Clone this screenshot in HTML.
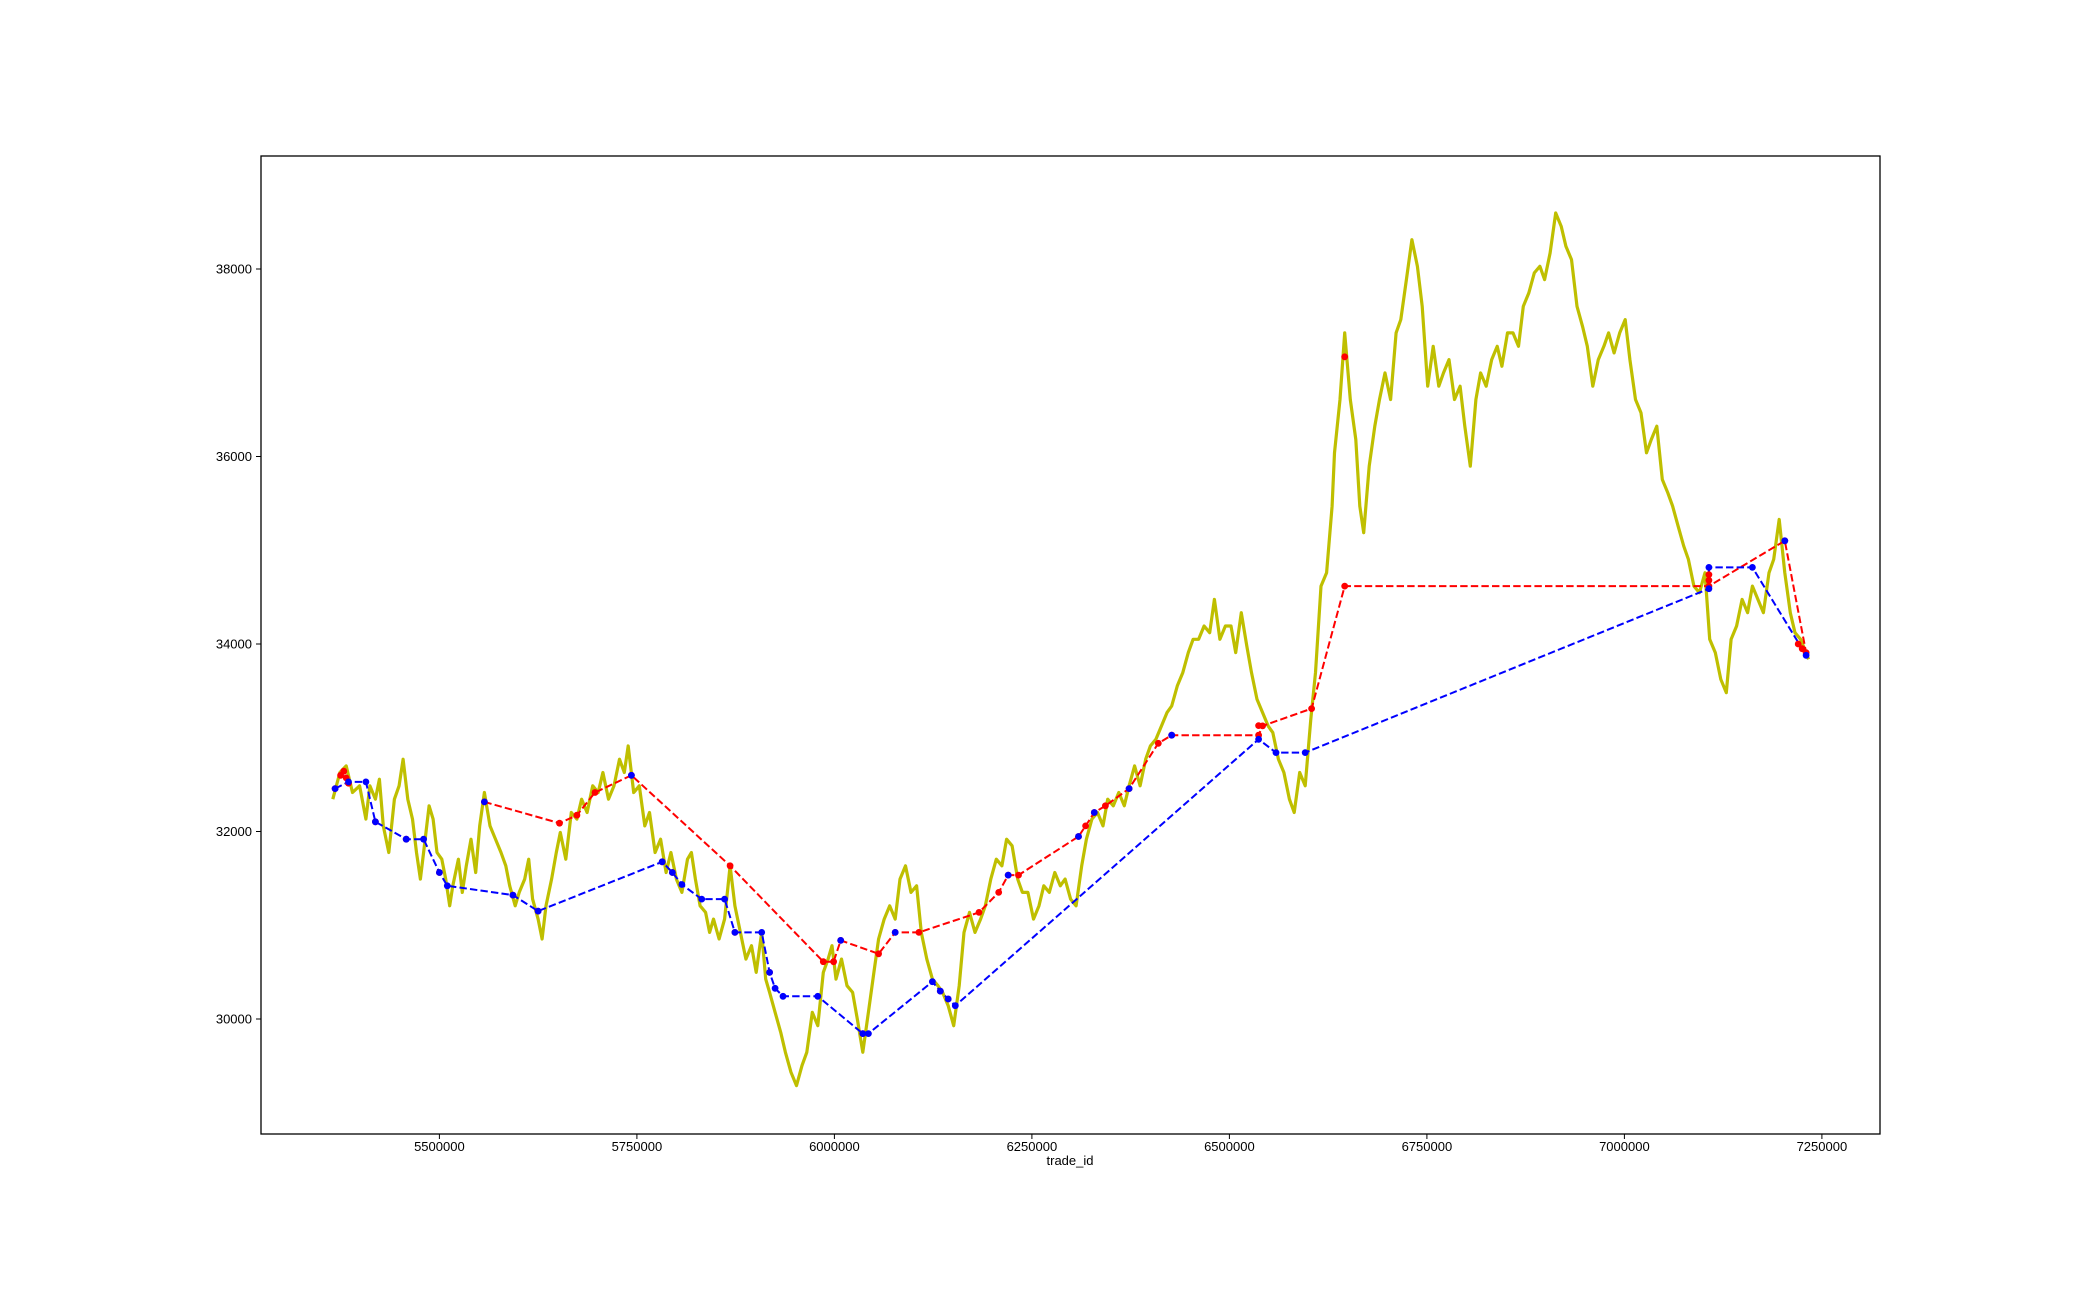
<!DOCTYPE html>
<html><head><meta charset="utf-8"><style>
html,body{margin:0;padding:0;background:#fff}
svg{display:block;font-family:"Liberation Sans","DejaVu Sans",sans-serif}
</style></head><body>
<svg id="chart" width="2088" height="1296" viewBox="0 0 2088 1296" xmlns="http://www.w3.org/2000/svg">
<rect width="2088" height="1296" fill="#fff"/>
<g id="plot"></g>
<rect x="261" y="156" width="1619" height="978" fill="none" stroke="#000" stroke-width="1.3"/>
<g id="axes"></g>
<text x="1070" y="1165" font-size="13" text-anchor="middle">trade_id</text>
</svg>
<script>
// price series (trade_id in thousands)
const priceTrade = [5365,5374,5382,5390,5399,5407,5412,5419,5424,5429,5436,5443,5449,5454,5460,5466,5471,5476,5480,5487,5492,5497,5503,5508,5513,5517,5524,5529,5534,5540,5546,5551,5557,5564,5571,5578,5584,5589,5596,5601,5608,5613,5618,5625,5630,5635,5642,5648,5653,5660,5667,5674,5680,5687,5694,5701,5707,5714,5721,5728,5734,5739,5746,5753,5760,5766,5773,5780,5787,5793,5800,5807,5814,5819,5824,5830,5837,5842,5847,5854,5861,5868,5874,5881,5888,5895,5901,5908,5913,5918,5925,5932,5938,5945,5952,5959,5965,5972,5979,5986,5992,5997,6002,6009,6016,6023,6029,6036,6043,6050,6056,6063,6070,6077,6083,6090,6097,6104,6110,6117,6124,6131,6137,6144,6151,6158,6164,6171,6178,6185,6191,6198,6205,6212,6218,6225,6232,6238,6245,6252,6259,6265,6272,6279,6286,6292,6299,6306,6313,6319,6326,6333,6340,6346,6353,6360,6367,6373,6380,6387,6394,6400,6407,6414,6421,6427,6434,6441,6448,6454,6461,6468,6475,6481,6488,6495,6502,6508,6515,6522,6528,6535,6542,6549,6555,6562,6569,6576,6582,6589,6596,6603,6609,6616,6623,6630,6633,6640,6646,6653,6660,6665,6670,6677,6684,6690,6697,6704,6711,6717,6724,6731,6738,6744,6751,6758,6765,6771,6778,6785,6792,6798,6805,6812,6818,6825,6832,6839,6845,6852,6859,6866,6872,6879,6886,6893,6899,6906,6913,6920,6926,6933,6940,6947,6953,6960,6967,6974,6980,6987,6994,7001,7007,7014,7021,7028,7034,7041,7048,7055,7061,7068,7075,7081,7088,7095,7102,7108,7115,7122,7129,7135,7142,7149,7156,7162,7169,7176,7183,7189,7196,7203,7210,7216,7223,7230,7233];
const priceValues = [32345,32629,32700,32416,32487,32132,32487,32345,32558,32060,31776,32345,32487,32771,32345,32132,31776,31492,31776,32274,32132,31776,31705,31492,31208,31421,31705,31350,31634,31918,31563,32060,32416,32060,31918,31776,31634,31421,31208,31350,31492,31705,31279,31066,30853,31208,31492,31776,31989,31705,32203,32132,32345,32203,32487,32416,32629,32345,32487,32771,32629,32913,32416,32487,32060,32203,31776,31918,31563,31776,31492,31350,31705,31776,31492,31208,31137,30924,31066,30853,31066,31634,31208,30924,30639,30782,30497,30924,30426,30284,30071,29858,29645,29432,29290,29503,29645,30071,29929,30497,30639,30782,30426,30639,30355,30284,30000,29645,30071,30497,30853,31066,31208,31066,31492,31634,31350,31421,30924,30639,30426,30355,30284,30142,29929,30355,30924,31137,30924,31066,31208,31492,31705,31634,31918,31847,31492,31350,31350,31066,31208,31421,31350,31563,31421,31492,31279,31208,31634,31918,32132,32203,32060,32345,32274,32416,32274,32487,32700,32487,32771,32913,32984,33126,33268,33339,33553,33695,33908,34050,34050,34192,34121,34476,34050,34192,34192,33908,34334,33979,33695,33410,33268,33126,33055,32771,32629,32345,32203,32629,32487,33197,33695,34618,34760,35471,36039,36608,37318,36608,36181,35471,35187,35897,36323,36608,36892,36608,37318,37460,37887,38313,38029,37602,36750,37176,36750,36892,37034,36608,36750,36323,35897,36608,36892,36750,37034,37176,36963,37318,37318,37176,37602,37744,37958,38029,37887,38171,38597,38455,38242,38100,37602,37389,37176,36750,37034,37176,37318,37105,37318,37460,37034,36608,36466,36039,36181,36323,35755,35613,35471,35258,35045,34902,34618,34547,34760,34050,33908,33624,33481,34050,34192,34476,34334,34618,34476,34334,34760,34902,35329,34760,34334,34121,34050,33908,33837];
// sell path (red)
const redTrade = [5557,5652,5674,5697,5743,5868,5986,5999,6008,6056,6077,6107,6183,6208,6220,6233,6309,6318,6329,6343,6373,6410,6427,6537,6542,6604,6646,7107,7203,7230];
const redValues = [32316,32089,32174,32416,32600,31634,30611,30611,30838,30696,30924,30924,31137,31350,31535,31535,31947,32060,32203,32274,32458,32941,33027,33027,33126,33311,34618,34618,35101,33908];
const redExtraTrade = [5368,5375,5379,5382,5385,6646,5419,5458,5500,5593,5625,5782,5795,5874,5918,6036,6134,6144,6537,7107,7107,7220,7225];
const redExtraValues = [32458,32600,32643,32572,32515,37063,32103,31918,31563,31322,31151,31677,31563,30924,30497,29844,30298,30213,33130,34680,34740,34000,33950];
// buy path (blue)
const blueTrade = [5368,5385,5407,5419,5458,5480,5500,5510,5593,5625,5782,5795,5807,5832,5861,5874,5908,5918,5925,5935,5979,6036,6043,6124,6134,6144,6153,6537,6559,6596,7107,7107,7162,7230];
const blueValues = [32458,32529,32529,32103,31918,31918,31563,31421,31322,31151,31677,31563,31435,31279,31279,30924,30924,30497,30327,30242,30242,29844,29844,30398,30298,30213,30142,32984,32842,32842,34590,34817,34817,33879];
const blueExtraTrade = [5557,5743,6008,6077,6220,6309,6329,6373,6427,7203];
const blueExtraValues = [32316,32600,30838,30924,31535,31947,32203,32458,33027,35101];
const xTicks = [5500000,5750000,6000000,6250000,6500000,6750000,7000000,7250000];
const yTicks = [30000,32000,34000,36000,38000];

const NS = 'http://www.w3.org/2000/svg';
function xs(t){ return 439.4 + (t - 5500000) / 250000 * 197.5; }
function xk(tk){ return xs(tk * 1000); }
function ys(p){ return 269 + (38000 - p) * 0.09375; }
const plot = document.getElementById('plot');
const axes = document.getElementById('axes');

function poly(tr, vals, color, dash, w, name){
  const pts = tr.map((t,i)=>xk(t).toFixed(1)+','+ys(vals[i]).toFixed(1)).join(' ');
  const el = document.createElementNS(NS,'polyline');
  el.setAttribute('points', pts);
  el.setAttribute('fill','none');
  el.setAttribute('stroke', color);
  el.setAttribute('stroke-width', w);
  el.setAttribute('stroke-linejoin','round');
  if(dash) el.setAttribute('stroke-dasharray', dash);
  
  
  plot.appendChild(el);
}
function dots(tr, vals, color, name){
  const g = document.createElementNS(NS,'g');
  
  
  tr.forEach((t,i)=>{
    const c = document.createElementNS(NS,'circle');
    c.setAttribute('cx', xk(t).toFixed(1));
    c.setAttribute('cy', ys(vals[i]).toFixed(1));
    c.setAttribute('r', 3.4);
    c.setAttribute('fill', color);
    
    
    g.appendChild(c);
  });
  plot.appendChild(g);
}
poly(priceTrade, priceValues, '#bfbf00', null, 3.2, 'price-line');
poly(redTrade, redValues, '#ff0000', '7.4,3.2', 2, 'sell-path-line');
poly(blueTrade, blueValues, '#0000ff', '7.4,3.2', 2, 'buy-path-line');
dots(redTrade, redValues, '#ff0000', 'sell-markers');
dots(redExtraTrade, redExtraValues, '#ff0000', 'sell-extra-markers');
dots(blueTrade, blueValues, '#0000ff', 'buy-markers');
dots(blueExtraTrade, blueExtraValues, '#0000ff', 'buy-extra-markers');

xTicks.forEach(t=>{
  const x = xs(t);
  const l = document.createElementNS(NS,'line');
  l.setAttribute('x1',x); l.setAttribute('x2',x);
  l.setAttribute('y1',1134); l.setAttribute('y2',1139);
  l.setAttribute('stroke','#000');
  
  
  axes.appendChild(l);
  const tx = document.createElementNS(NS,'text');
  tx.setAttribute('x',x); tx.setAttribute('y',1151);
  tx.setAttribute('font-size','13'); tx.setAttribute('text-anchor','middle');
  tx.textContent = t;
  
  
  axes.appendChild(tx);
});
yTicks.forEach(v=>{
  const y = ys(v);
  const l = document.createElementNS(NS,'line');
  l.setAttribute('x1',256); l.setAttribute('x2',261);
  l.setAttribute('y1',y); l.setAttribute('y2',y);
  l.setAttribute('stroke','#000');
  
  
  axes.appendChild(l);
  const tx = document.createElementNS(NS,'text');
  tx.setAttribute('x',252); tx.setAttribute('y',y+4.5);
  tx.setAttribute('font-size','13'); tx.setAttribute('text-anchor','end');
  tx.textContent = v;
  
  
  axes.appendChild(tx);
});
</script>
</body></html>
